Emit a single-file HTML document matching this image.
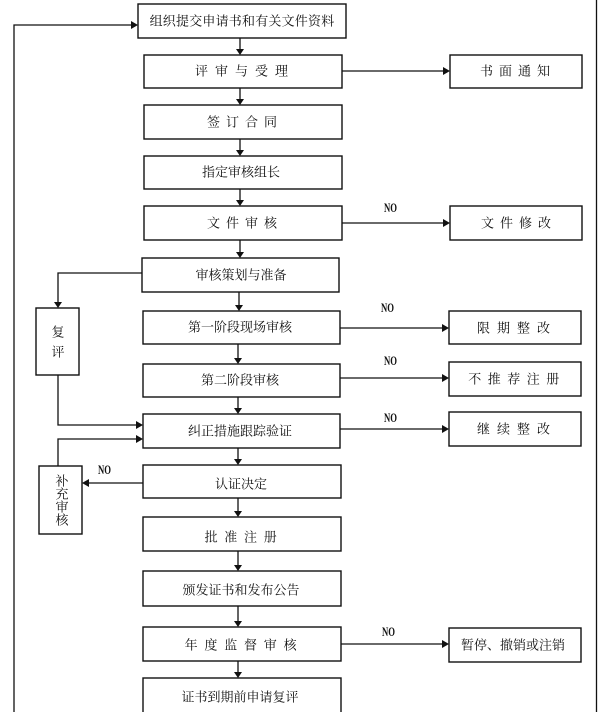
<!DOCTYPE html>
<html><head><meta charset="utf-8">
<style>
html,body{margin:0;padding:0;background:#fff;}
svg{display:block;}
.t{font-family:"Liberation Serif","Noto Serif CJK SC","Noto Sans CJK SC",serif;font-size:13px;fill:#111;text-anchor:middle;dominant-baseline:central;}
.no{font-family:"Liberation Serif",serif;font-size:13px;fill:#111;text-anchor:middle;font-weight:bold;}
</style></head>
<body>
<svg width="600" height="712" viewBox="0 0 600 712" xmlns="http://www.w3.org/2000/svg">
<g fill="none" stroke="#111" stroke-width="1.4">
<!-- main boxes -->
<rect x="138" y="4" width="208" height="34"/>
<rect x="144" y="55" width="198" height="33"/>
<rect x="144" y="105" width="198" height="34"/>
<rect x="144" y="156" width="198" height="33"/>
<rect x="144" y="206" width="198" height="34"/>
<rect x="142" y="258" width="197" height="34"/>
<rect x="143" y="311" width="197" height="33"/>
<rect x="143" y="364" width="197" height="33"/>
<rect x="143" y="414" width="197" height="34"/>
<rect x="143" y="465" width="198" height="33"/>
<rect x="143" y="517" width="198" height="34"/>
<rect x="143" y="571" width="198" height="35"/>
<rect x="143" y="627" width="198" height="34"/>
<rect x="143" y="678" width="198" height="44"/>
<!-- right boxes -->
<rect x="450" y="55" width="132" height="33"/>
<rect x="450" y="206" width="132" height="34"/>
<rect x="449" y="311" width="132" height="33"/>
<rect x="449" y="362" width="132" height="34"/>
<rect x="449" y="412" width="132" height="34"/>
<rect x="449" y="628" width="132" height="34"/>
<!-- left boxes -->
<rect x="36" y="308" width="43" height="67"/>
<rect x="39" y="466" width="43" height="68"/>
</g>
<g fill="none" stroke="#111" stroke-width="1.3">
<!-- vertical main connectors -->
<line x1="240" y1="38" x2="240" y2="50"/>
<line x1="240" y1="88" x2="240" y2="100"/>
<line x1="240" y1="139" x2="240" y2="151"/>
<line x1="240" y1="189" x2="240" y2="201"/>
<line x1="240" y1="240" x2="240" y2="253"/>
<line x1="239" y1="292" x2="239" y2="306"/>
<line x1="238" y1="344" x2="238" y2="359"/>
<line x1="238" y1="397" x2="238" y2="409"/>
<line x1="238" y1="448" x2="238" y2="460"/>
<line x1="238" y1="498" x2="238" y2="512"/>
<line x1="238" y1="551" x2="238" y2="566"/>
<line x1="238" y1="606" x2="238" y2="622"/>
<line x1="238" y1="661" x2="238" y2="673"/>
<!-- horizontal right connectors -->
<line x1="342" y1="71" x2="444" y2="71"/>
<line x1="342" y1="223" x2="444" y2="223"/>
<line x1="340" y1="328" x2="443" y2="328"/>
<line x1="340" y1="378" x2="443" y2="378"/>
<line x1="340" y1="429" x2="443" y2="429"/>
<line x1="341" y1="644" x2="443" y2="644"/>
<!-- left connectors -->
<polyline points="142,273 58,273 58,302"/>
<polyline points="58,375 58,425 137,425"/>
<polyline points="58,466 58,439 137,439"/>
<line x1="143" y1="483" x2="88" y2="483"/>
<polyline points="14,712 14,25 132,25"/>
<!-- right page border -->
<line x1="596.5" y1="0" x2="596.5" y2="712"/>
</g>
<g fill="#111">
<!-- down arrowheads -->
<polygon points="236,49 244,49 240,55"/>
<polygon points="236,99 244,99 240,105"/>
<polygon points="236,150 244,150 240,156"/>
<polygon points="236,200 244,200 240,206"/>
<polygon points="236,252 244,252 240,258"/>
<polygon points="235,305 243,305 239,311"/>
<polygon points="234,358 242,358 238,364"/>
<polygon points="234,408 242,408 238,414"/>
<polygon points="234,459 242,459 238,465"/>
<polygon points="234,511 242,511 238,517"/>
<polygon points="234,565 242,565 238,571"/>
<polygon points="234,621 242,621 238,627"/>
<polygon points="234,672 242,672 238,678"/>
<polygon points="54,302 62,302 58,308"/>
<!-- right arrowheads -->
<polygon points="443,67 443,75 450,71"/>
<polygon points="443,219 443,227 450,223"/>
<polygon points="442,324 442,332 449,328"/>
<polygon points="442,374 442,382 449,378"/>
<polygon points="442,425 442,433 449,429"/>
<polygon points="442,640 442,648 449,644"/>
<polygon points="136,421 136,429 143,425"/>
<polygon points="136,435 136,443 143,439"/>
<polygon points="131,21 131,29 138,25"/>
<!-- left arrowhead -->
<polygon points="89,479 89,487 82,483"/>
</g>
<!-- texts -->
<text class="t" x="242" y="21" letter-spacing="0.2">组织提交申请书和有关文件资料</text>
<text class="t" x="245" y="71" letter-spacing="7">评审与受理</text>
<text class="t" x="245" y="122" letter-spacing="6">签订合同</text>
<text class="t" x="241" y="172">指定审核组长</text>
<text class="t" x="245" y="223" letter-spacing="6">文件审核</text>
<text class="t" x="241" y="275">审核策划与准备</text>
<text class="t" x="240" y="327">第一阶段现场审核</text>
<text class="t" x="240" y="380">第二阶段审核</text>
<text class="t" x="240" y="431">纠正措施跟踪验证</text>
<text class="t" x="241" y="484">认证决定</text>
<text class="t" x="244" y="537" letter-spacing="6.7">批准注册</text>
<text class="t" x="241" y="590">颁发证书和发布公告</text>
<text class="t" x="244" y="645" letter-spacing="6.8">年度监督审核</text>
<text class="t" x="240" y="697">证书到期前申请复评</text>

<text class="t" x="518" y="71" letter-spacing="6">书面通知</text>
<text class="t" x="519" y="223" letter-spacing="6">文件修改</text>
<text class="t" x="517" y="328" letter-spacing="7">限期整改</text>
<text class="t" x="517" y="379" letter-spacing="6.5">不推荐注册</text>
<text class="t" x="517" y="429" letter-spacing="7">继续整改</text>
<text class="t" x="513" y="645">暂停、撤销或注销</text>

<text class="t" x="58" y="332">复</text>
<text class="t" x="58" y="352">评</text>
<text class="t" x="62" y="481">补</text>
<text class="t" x="62" y="494">充</text>
<text class="t" x="62" y="507">审</text>
<text class="t" x="62" y="520">核</text>

<text class="no" x="390.5" y="212" textLength="13" lengthAdjust="spacingAndGlyphs">NO</text>
<text class="no" x="387.5" y="312" textLength="13" lengthAdjust="spacingAndGlyphs">NO</text>
<text class="no" x="390.5" y="365" textLength="13" lengthAdjust="spacingAndGlyphs">NO</text>
<text class="no" x="390.5" y="422" textLength="13" lengthAdjust="spacingAndGlyphs">NO</text>
<text class="no" x="104.5" y="474" textLength="13" lengthAdjust="spacingAndGlyphs">NO</text>
<text class="no" x="388.5" y="636" textLength="13" lengthAdjust="spacingAndGlyphs">NO</text>
</svg>
</body></html>
